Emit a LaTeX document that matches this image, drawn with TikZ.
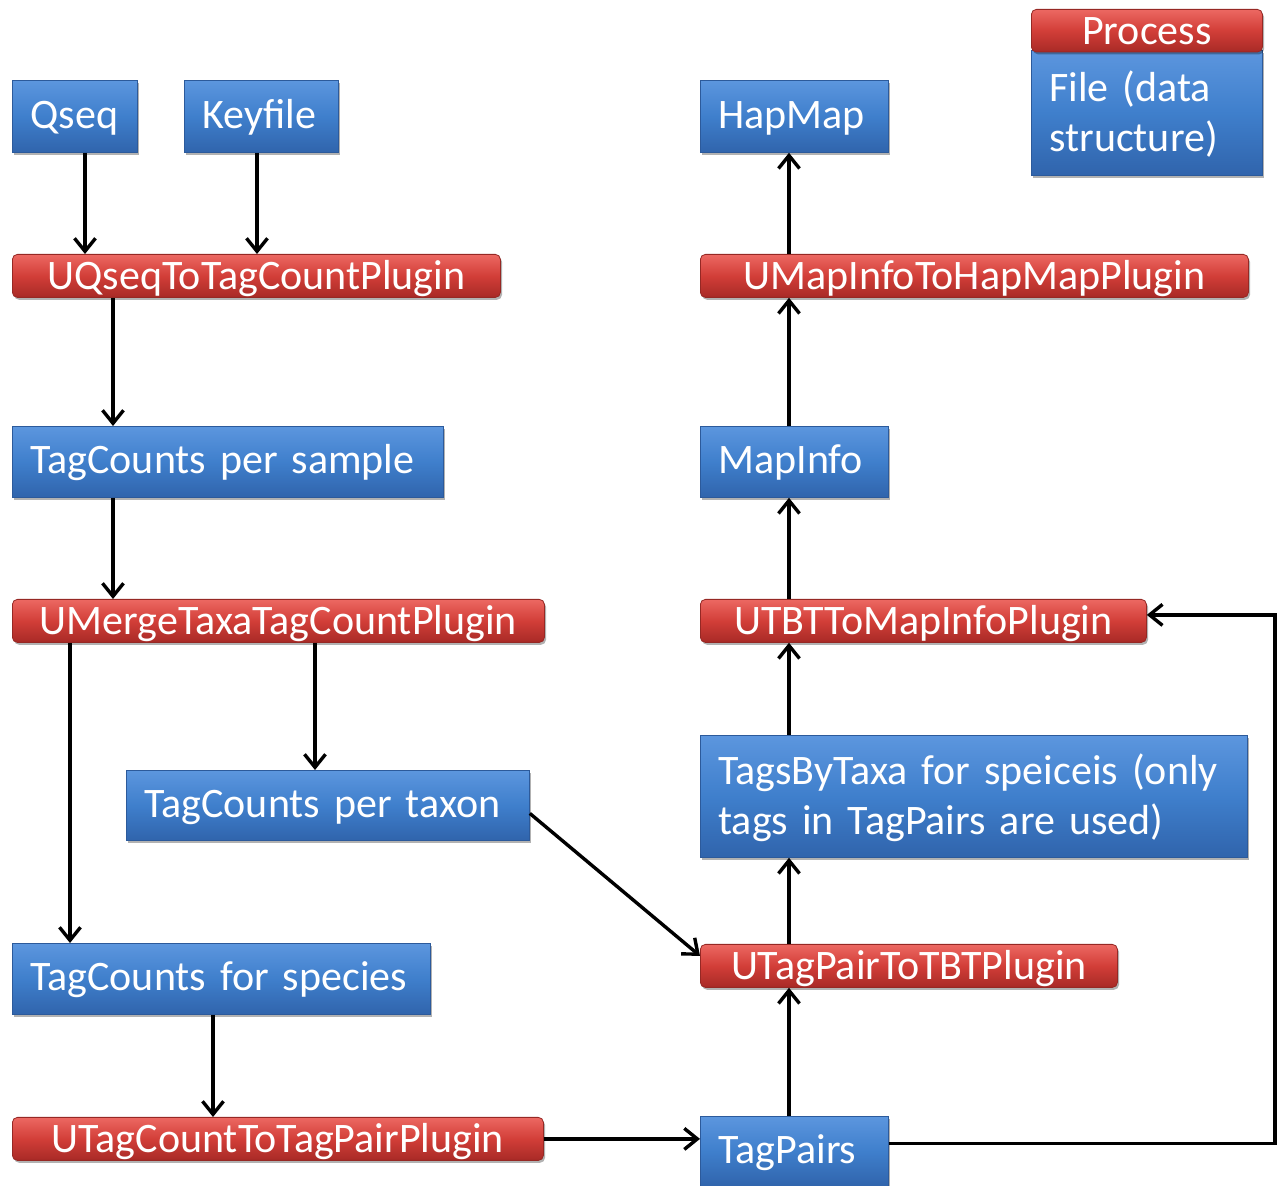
\documentclass[tikz,border=0pt]{standalone}
\usepackage{fontspec}
\setmainfont{Carlito}
\usetikzlibrary{arrows.meta,shadows,calc}
\definecolor{blueTop}{RGB}{92,150,222}
\definecolor{blueMid}{RGB}{63,127,204}
\definecolor{blueBot}{RGB}{48,100,172}
\definecolor{blueEdge}{RGB}{44,90,155}
\definecolor{redTop}{RGB}{236,104,98}
\definecolor{redMid}{RGB}{210,62,56}
\definecolor{redBot}{RGB}{168,42,38}
\definecolor{redEdge}{RGB}{150,40,36}
\begin{document}
\begin{tikzpicture}[x=0.5pt,y=-0.5pt,
  box/.style={anchor=north west, inner sep=0pt, text=white,
    font=\fontsize{21}{25}\selectfont,
    drop shadow={shadow xshift=0.8pt, shadow yshift=-1.2pt, opacity=0.3, fill=black}},
  filebox/.style={box, draw=blueEdge, line width=0.4pt,
    top color=blueTop, bottom color=blueBot, middle color=blueMid,
    align=left, inner xsep=9pt},
  oneline/.style={text height=15pt, text depth=3pt},
  procbox/.style={box, draw=redEdge, line width=0.4pt, rounded corners=2.5pt,
    top color=redTop, bottom color=redBot, middle color=redMid, align=center,
    text height=17.5pt, text depth=3.8pt},
  arr/.style={line width=1.7pt, -{Straight Barb[length=6.5pt,width=10.5pt,line width=1.7pt]}}]
\useasboundingbox (0,0) rectangle (1281,1186);

% file boxes (blue)
\node[filebox, oneline, text width=44.5pt, minimum height=36pt] (qseq) at (12,80) {Qseq};
\node[filebox, oneline, text width=59pt, minimum height=36pt] (keyfile) at (184,80) {Keyfile};
\node[filebox, oneline, text width=197.5pt, minimum height=35.5pt] (tcsample) at (12,426) {TagCounts per sample};
\node[filebox, oneline, text width=183.5pt, minimum height=35pt] (taxon) at (126,770) {TagCounts per taxon};
\node[filebox, oneline, text width=191pt, minimum height=35.5pt] (species) at (12,943) {TagCounts for species};
\node[filebox, oneline, text width=76pt, minimum height=35pt] (tagpairs) at (700,1116) {TagPairs};
\node[filebox, text width=255.5pt, minimum height=61pt] (tbt) at (700,735) {\rule{0pt}{17pt}TagsByTaxa for speiceis (only\\tags in TagPairs are used)};
\node[filebox, oneline, text width=76pt, minimum height=35.5pt] (mapinfo) at (700,426) {MapInfo};
\node[filebox, oneline, text width=76pt, minimum height=36pt] (hapmap) at (700,80) {HapMap};

% process boxes (red)
\node[procbox, minimum width=244pt, minimum height=21.5pt] (uqseq) at (12,254) {UQseqToTagCountPlugin};
\node[procbox, minimum width=266pt, minimum height=21.5pt] (umerge) at (12,599) {UMergeTaxaTagCountPlugin};
\node[procbox, minimum width=265.5pt, minimum height=21.5pt] (tc2tp) at (12,1117) {UTagCountToTagPairPlugin};
\node[procbox, minimum width=208.5pt, minimum height=21.5pt] (tp2tbt) at (700,944) {UTagPairToTBTPlugin};
\node[procbox, minimum width=223pt, minimum height=21.5pt] (tbt2map) at (700,599) {UTBTToMapInfoPlugin};
\node[procbox, minimum width=274pt, minimum height=21.5pt] (map2hap) at (700,254) {UMapInfoToHapMapPlugin};

% legend
\node[filebox, text width=97.5pt, minimum height=62.5pt] (legfile) at (1031,50) {\rule{0pt}{17pt}File (data\\structure)};
\node[procbox, minimum width=115.5pt, minimum height=20.5pt] (legproc) at (1031,9) {Process};

% x positions of vertical connectors
\coordinate (xa) at (85,0);
\coordinate (xb) at (257,0);
\coordinate (xc) at (113,0);
\coordinate (xd) at (70,0);
\coordinate (xe) at (315,0);
\coordinate (xf) at (213,0);
\coordinate (xg) at (789,0);
\coordinate (xr) at (1275,0);

% connectors
\draw[arr] (qseq.south -| xa) -- (uqseq.north -| xa);
\draw[arr] (keyfile.south -| xb) -- (uqseq.north -| xb);
\draw[arr] (uqseq.south -| xc) -- (tcsample.north -| xc);
\draw[arr] (tcsample.south -| xc) -- (umerge.north -| xc);
\draw[arr] (umerge.south -| xd) -- (species.north -| xd);
\draw[arr] (umerge.south -| xe) -- (taxon.north -| xe);
\draw[arr] (species.south -| xf) -- (tc2tp.north -| xf);
\draw[arr] (tc2tp.east) -- (tc2tp.east -| tagpairs.west);
\draw[arr] ($(taxon.east)+(0,8)$) -- ($(tp2tbt.west)+(0,-10)$);
\draw[arr] (tagpairs.north -| xg) -- (tp2tbt.south -| xg);
\draw[arr] (tp2tbt.north -| xg) -- (tbt.south -| xg);
\draw[arr] (tbt.north -| xg) -- (tbt2map.south -| xg);
\draw[arr] (tbt2map.north -| xg) -- (mapinfo.south -| xg);
\draw[arr] (mapinfo.north -| xg) -- (map2hap.south -| xg);
\draw[arr] (map2hap.north -| xg) -- (hapmap.south -| xg);
\draw[arr] ($(tagpairs.east)+(0,-8)$) -- ($(tagpairs.east -| xr)+(0,-8)$) -- ($(tbt2map.east -| xr)+(0,-6)$) -- ($(tbt2map.east)+(0,-6)$);
\end{tikzpicture}
\end{document}
